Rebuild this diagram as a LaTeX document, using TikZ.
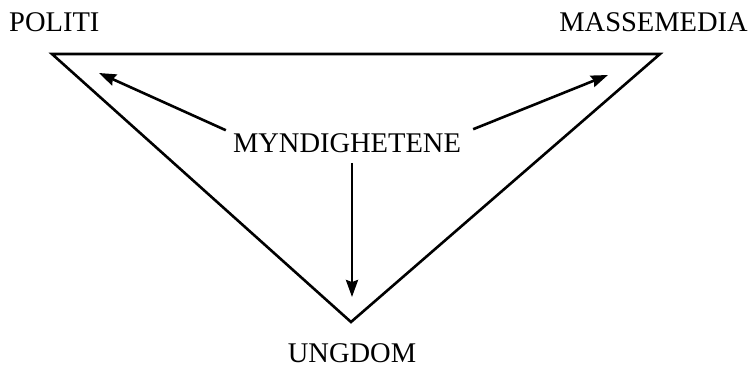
\documentclass[tikz,border=0pt]{standalone}
\usepackage{fontspec}
\setmainfont{Liberation Serif}
\usetikzlibrary{arrows.meta, positioning}

\begin{document}
\begin{tikzpicture}[
    x=1pt, y=-1pt,
    lab/.style={
      font=\fontsize{28.5}{31}\selectfont,
      inner sep=0pt
    },
    edge/.style={
      line width=2.6pt,
      line join=miter
    },
    arr/.style={
      line width=2.6pt,
      -{Stealth[length=17pt, width=12pt, inset=2pt]}
    }
]
  \useasboundingbox (0,0) rectangle (753,369);

  % Corners of the triangle
  \coordinate (pol) at (52,54);
  \coordinate (med) at (660,54);
  \coordinate (ung) at (351,322);

  % Labels
  \node[lab, anchor=west] (politi) at (9,22) {POLITI};
  \node[lab, anchor=east] (massemedia) at (748,22) {MASSEMEDIA};
  \node[lab] (myndighetene) at (347,143) {MYNDIGHETENE};
  \node[lab] (ungdom) at (352,353) {UNGDOM};

  % Triangle
  \draw[edge] (pol) -- (med) -- (ung) -- cycle;

  % Free ends of the arrows
  \coordinate (tpol) at (99,73);
  \coordinate (tmed) at (608,75);
  \coordinate (tung) at (352,297);

  % Arrows
  \draw[arr] ([xshift=-7pt, yshift=3pt]myndighetene.north west) -- (tpol);
  \draw[arr] ([xshift=12pt, yshift=4pt]myndighetene.north east) -- (tmed);
  \draw[arr] ([xshift=5pt, yshift=-10pt]myndighetene.south) -- (tung);
\end{tikzpicture}
\end{document}
